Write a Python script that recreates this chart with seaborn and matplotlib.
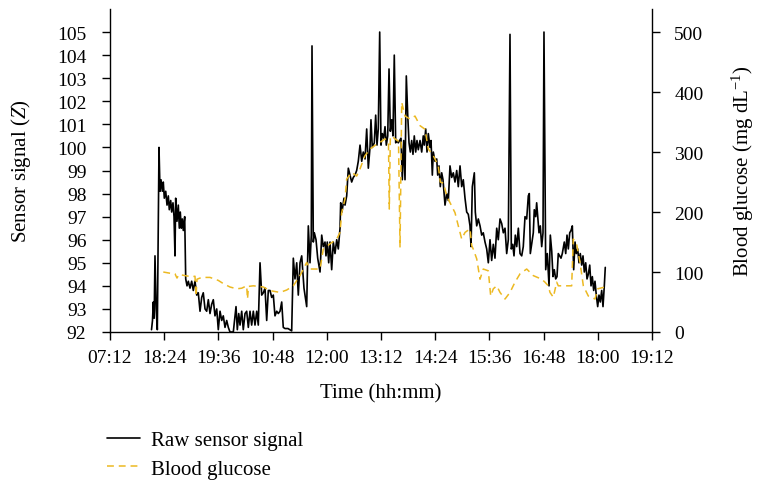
import matplotlib
matplotlib.use("Agg")
import matplotlib.pyplot as plt
import seaborn as sns
from matplotlib.lines import Line2D

sns.set_theme(style="ticks")
plt.rcParams['font.family'] = ['Liberation Serif', 'DejaVu Serif']
plt.rcParams['mathtext.fontset'] = 'custom'
plt.rcParams['mathtext.rm'] = 'Liberation Serif'
plt.rcParams['mathtext.it'] = 'Liberation Serif:italic'
plt.rcParams['text.color'] = 'black'
plt.rcParams['axes.labelcolor'] = 'black'

# ---- data (x in tick units: 0 = first tick, 10 = last tick) ----
tick_labels = ["07:12", "18:24", "19:36", "10:48", "12:00", "13:12",
               "14:24", "15:36", "16:48", "18:00", "19:12"]

sensor_t = [0.766, 0.784, 0.799, 0.815, 0.830, 0.852, 0.873, 0.904, 0.923, 0.941,
            0.965, 0.983, 1.002, 1.028, 1.052, 1.076, 1.094, 1.120, 1.138, 1.162,
            1.181, 1.199, 1.212, 1.236, 1.260, 1.279, 1.297, 1.315, 1.334, 1.352,
            1.378, 1.397, 1.421, 1.445, 1.476, 1.507, 1.537, 1.568, 1.600, 1.629,
            1.661, 1.692, 1.721, 1.753, 1.784, 1.814, 1.845, 1.876, 1.906, 1.937,
            1.969, 1.998, 2.030, 2.061, 2.090, 2.122, 2.153, 2.183, 2.214, 2.275,
            2.325, 2.349, 2.375, 2.399, 2.430, 2.459, 2.491, 2.522, 2.552, 2.583,
            2.614, 2.644, 2.675, 2.707, 2.736, 2.768, 2.799, 2.829, 2.860, 2.891,
            2.921, 2.952, 2.983, 3.013, 3.044, 3.076, 3.105, 3.137, 3.168, 3.197,
            3.229, 3.284, 3.352, 3.382, 3.413, 3.445, 3.474, 3.506, 3.537, 3.579,
            3.629, 3.659, 3.690, 3.714, 3.727, 3.751, 3.770, 3.801, 3.832, 3.875,
            3.906, 3.935, 3.967, 3.985, 4.009, 4.035, 4.059, 4.090, 4.120, 4.151,
            4.183, 4.212, 4.244, 4.256, 4.280, 4.317, 4.336, 4.367, 4.397, 4.428,
            4.459, 4.489, 4.520, 4.551, 4.581, 4.613, 4.644, 4.673, 4.705, 4.736,
            4.766, 4.797, 4.815, 4.839, 4.876, 4.902, 4.926, 4.950, 4.976, 5.000,
            5.024, 5.050, 5.074, 5.098, 5.124, 5.148, 5.172, 5.197, 5.221, 5.245,
            5.271, 5.295, 5.319, 5.345, 5.369, 5.393, 5.419, 5.443, 5.467, 5.493,
            5.517, 5.541, 5.566, 5.590, 5.614, 5.640, 5.664, 5.688, 5.720, 5.751,
            5.780, 5.799, 5.825, 5.849, 5.873, 5.904, 5.923, 5.947, 5.965, 5.996,
            6.028, 6.046, 6.070, 6.094, 6.120, 6.144, 6.181, 6.212, 6.242, 6.273,
            6.304, 6.334, 6.365, 6.397, 6.426, 6.458, 6.489, 6.518, 6.550, 6.581,
            6.611, 6.642, 6.661, 6.685, 6.722, 6.740, 6.766, 6.795, 6.827, 6.858,
            6.887, 6.919, 6.950, 6.980, 7.011, 7.042, 7.072, 7.103, 7.135, 7.164,
            7.196, 7.227, 7.257, 7.288, 7.319, 7.349, 7.380, 7.404, 7.430, 7.454,
            7.478, 7.504, 7.534, 7.565, 7.596, 7.625, 7.657, 7.688, 7.718, 7.736,
            7.755, 7.780, 7.810, 7.828, 7.854, 7.872, 7.891, 7.915, 7.939, 7.965,
            7.989, 8.007, 8.039, 8.068, 8.100, 8.124, 8.150, 8.173, 8.197, 8.223,
            8.247, 8.271, 8.297, 8.321, 8.345, 8.382, 8.408, 8.432, 8.456, 8.482,
            8.506, 8.530, 8.555, 8.580, 8.603, 8.629, 8.653, 8.677, 8.703, 8.727,
            8.751, 8.777, 8.801, 8.825, 8.851, 8.875, 8.899, 8.924, 8.948, 8.972,
            8.998, 9.022, 9.046, 9.072, 9.096, 9.120, 9.138]

sensor_z = [92.1, 92.5, 93.3, 92.6, 95.3, 93.0, 92.1, 100.0, 98.1, 98.6,
            98.1, 98.5, 97.8, 98.1, 97.5, 97.9, 97.3, 97.7, 97.2, 97.6,
            97.0, 95.3, 97.8, 96.8, 97.5, 96.5, 97.2, 96.5, 96.9, 96.4,
            97.0, 94.3, 94.0, 94.2, 93.9, 94.2, 93.8, 94.2, 93.6, 93.7,
            92.9, 93.5, 93.7, 93.0, 92.9, 93.4, 92.8, 93.2, 93.4, 92.7,
            93.0, 92.1, 92.9, 92.5, 92.7, 92.2, 92.5, 92.2, 92.0, 92.0,
            93.1, 92.1, 92.8, 92.3, 92.9, 92.1, 92.8, 92.9, 92.2, 92.9,
            92.3, 92.9, 92.3, 92.9, 92.3, 95.0, 93.6, 93.7, 93.9, 92.5,
            93.8, 93.8, 93.5, 93.6, 92.7, 92.9, 92.8, 92.9, 93.3, 92.2,
            92.15, 92.15, 92.05, 95.2, 94.3, 95.0, 93.6, 95.0, 95.3, 93.9,
            93.1, 96.6, 95.0, 96.2, 104.4, 95.9, 96.3, 96.0, 95.2, 94.6,
            96.2, 95.7, 95.9, 95.3, 95.9, 95.0, 95.9, 94.7, 95.9, 95.4,
            96.0, 95.6, 96.5, 97.6, 97.2, 97.8, 97.5, 97.9, 99.1, 98.8,
            98.5, 98.7, 98.8, 99.0, 99.4, 100.1, 99.4, 99.8, 99.5, 100.8,
            99.1, 100.0, 101.2, 100.0, 100.2, 101.4, 100.1, 100.8, 105.0, 100.1,
            100.6, 100.4, 100.9, 100.1, 100.5, 103.4, 100.7, 101.2, 100.5, 104.0,
            100.2, 100.3, 100.2, 100.3, 100.4, 98.6, 100.3, 98.6, 103.1, 101.4,
            100.2, 99.8, 100.3, 99.7, 100.5, 99.8, 100.3, 99.9, 100.3, 99.8,
            100.5, 100.1, 100.8, 99.8, 100.6, 100.0, 100.3, 98.8, 99.8, 99.4,
            99.5, 98.8, 99.2, 98.3, 98.9, 98.6, 97.5, 98.0, 97.7, 99.2,
            98.7, 98.9, 98.5, 99.0, 98.3, 99.2, 98.3, 98.6, 97.8, 97.2,
            97.1, 96.6, 95.7, 98.3, 98.9, 97.2, 96.6, 96.9, 96.6, 96.2,
            96.3, 95.9, 95.6, 95.0, 96.0, 95.1, 95.8, 95.2, 96.5, 96.0,
            96.9, 96.7, 96.3, 96.5, 95.4, 96.0, 104.9, 95.6, 95.8, 95.3,
            96.2, 95.7, 96.5, 95.4, 95.3, 95.7, 97.0, 96.9, 97.9, 98.0,
            95.4, 95.8, 96.3, 97.3, 97.0, 97.6, 97.0, 96.3, 96.6, 95.7,
            96.3, 105.0, 94.7, 95.4, 94.0, 96.2, 95.5, 94.4, 94.7, 94.3,
            94.4, 95.4, 95.3, 95.2, 95.4, 95.9, 95.4, 96.2, 95.6, 96.3,
            96.4, 96.6, 94.7, 95.9, 95.4, 95.6, 95.0, 95.4, 94.9, 95.3,
            94.6, 95.0, 94.3, 94.5, 94.9, 94.0, 94.4, 93.8, 94.2, 93.6,
            93.1, 93.6, 93.3, 93.8, 93.1, 94.0, 94.8]

glucose_t = [0.983, 1.107, 1.199, 1.236, 1.273, 1.384, 1.513, 1.568, 1.587, 1.605,
             1.692, 1.845, 1.998, 2.103, 2.214, 2.338, 2.430, 2.522, 2.537, 2.555,
             2.644, 2.829, 2.952, 3.137, 3.260, 3.382, 3.506, 3.629, 3.690, 3.875,
             3.935, 4.059, 4.183, 4.244, 4.275, 4.336, 4.367, 4.459, 4.551, 4.613,
             4.705, 4.797, 4.889, 4.982, 5.074, 5.138, 5.153, 5.172, 5.197, 5.258,
             5.323, 5.351, 5.382, 5.443, 5.535, 5.627, 5.720, 5.812, 5.873, 5.965,
             6.057, 6.094, 6.155, 6.212, 6.304, 6.365, 6.426, 6.489, 6.550, 6.642,
             6.674, 6.703, 6.766, 6.827, 6.887, 6.980, 7.024, 7.072, 7.135, 7.196,
             7.288, 7.380, 7.472, 7.565, 7.688, 7.810, 7.965, 8.026, 8.087, 8.118,
             8.179, 8.242, 8.271, 8.518, 8.548, 8.610, 8.672, 8.733, 8.825, 8.948,
             8.998, 9.133]

glucose_mg = [100, 98, 97, 90, 96, 94, 92, 93, 60, 88,
              91, 91, 86, 80, 75, 72, 73, 77, 55, 76,
              77, 75, 69, 66, 70, 77, 94, 116, 105, 105,
              138, 147, 155, 166, 199, 222, 255, 266, 260, 272,
              294, 305, 311, 316, 322, 316, 205, 322, 327, 322,
              318, 141, 383, 360, 355, 360, 344, 338, 305, 294,
              277, 250, 248, 227, 210, 199, 177, 155, 166, 172,
              144, 138, 122, 88, 105, 102, 60, 72, 77, 66,
              55, 66, 83, 97, 105, 94, 88, 83, 77, 66,
              58, 83, 77, 77, 155, 146, 116, 77, 60, 55,
              72, 75]

# ---- figure ----
W, H = 758, 481
fig = plt.figure(figsize=(W / 100, H / 100), dpi=100)
ax = fig.add_axes([110 / W, 1 - 333 / H, 542 / W, 323 / H])
ax2 = ax.twinx()

gold = "#ECB922"
dash = (0, (4.5, 3.2))
sns.lineplot(x=sensor_t, y=sensor_z, ax=ax, color="black", linewidth=1.2,
             sort=False, estimator=None, legend=False)
sns.lineplot(x=glucose_t, y=glucose_mg, ax=ax2, color=gold, linewidth=1.1,
             sort=False, estimator=None, legend=False)
ax2.lines[0].set_linestyle(dash)

fs_tick = 14
fs_lab = 15
ax.set_xlim(0, 10)
ax.set_xticks(range(11))
ax.set_xticklabels(tick_labels)
ax.set_ylim(92, 106)
ax.set_yticks(range(92, 106))
ax2.set_ylim(0, 538.5)
ax2.set_yticks(range(0, 501, 100))

for a in (ax, ax2):
    a.tick_params(direction="out", length=6, width=1, colors="black",
                  labelsize=fs_tick)
    for s in a.spines.values():
        s.set_color("black")
        s.set_linewidth(1)
    a.spines["top"].set_visible(False)
ax.spines["right"].set_visible(False)
ax2.spines["left"].set_visible(False)
ax2.spines["bottom"].set_visible(False)
ax.tick_params(axis="x", pad=6)
ax.tick_params(axis="y", pad=11)
ax2.tick_params(axis="y", pad=10)

ax.set_xlabel("Time (hh:mm)", fontsize=fs_lab, labelpad=13)
ax.set_ylabel("Sensor signal ($\\mathit{Z}$)", fontsize=fs_lab, labelpad=17)
ax2.set_ylabel("Blood glucose (mg dL$^{-1}$)", fontsize=fs_lab, labelpad=19)

handles = [Line2D([], [], color="black", linewidth=1.2),
           Line2D([], [], color=gold, linewidth=1.1, linestyle=dash)]
fig.legend(handles, ["Raw sensor signal", "Blood glucose"],
           loc="center left", bbox_to_anchor=(0.117, 0.053), frameon=False,
           fontsize=fs_lab, handlelength=1.55, handletextpad=0.55, labelspacing=0.45)

fig.savefig("out.png", dpi=100)
